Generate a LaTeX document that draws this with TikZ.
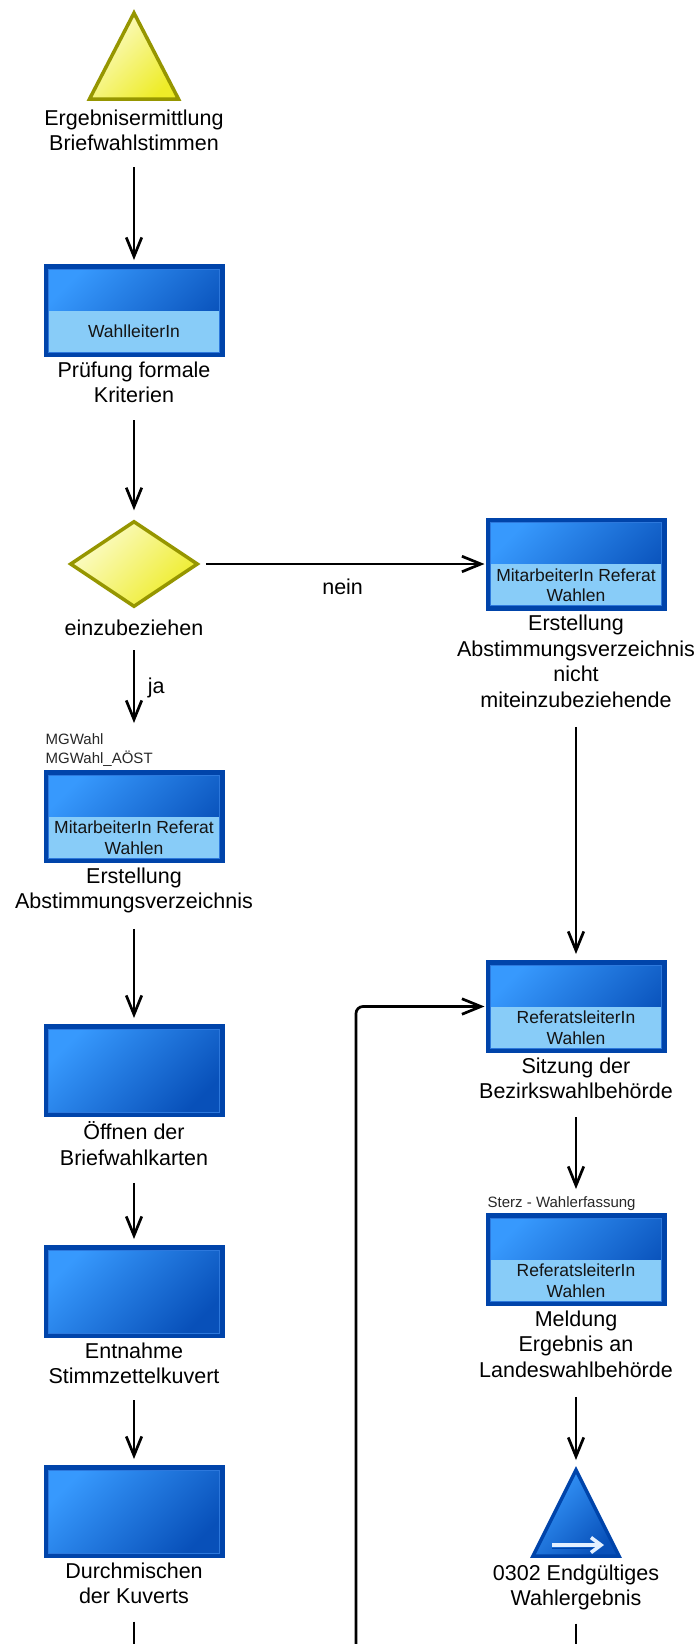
\documentclass[tikz,border=0pt]{standalone}
\usepackage{fontspec}
\setmainfont{Liberation Sans}
\usetikzlibrary{arrows.meta,shapes.geometric,calc}

\definecolor{boxedge}{RGB}{0,68,170}
\definecolor{boxinner}{RGB}{45,120,220}
\definecolor{boxlight}{RGB}{55,153,253}
\definecolor{boxdark}{RGB}{8,80,185}
\definecolor{bandfill}{RGB}{136,204,248}
\definecolor{evedge}{RGB}{150,150,0}
\definecolor{evlight}{RGB}{252,252,205}
\definecolor{evdark}{RGB}{238,236,40}
\definecolor{roletext}{RGB}{20,20,20}
\definecolor{tagtext}{RGB}{40,40,40}
\definecolor{iconwhite}{RGB}{228,240,255}

\newcommand\mainstrut{\rule[-5pt]{0pt}{25pt}}
\newcommand\tagstrut{\rule[-4pt]{0pt}{4pt}}

% role band, role text and inner rim of an activity box
\newcommand\actband[2]{%
  \fill[bandfill] ($(#1.center)+(-85.5,0)$) rectangle ($(#1.center)+(85.5,41.5)$);
  \node[role] (#1-role) at ($(#1.center)+(0,21)$) {#2};
}
\newcommand\actrim[1]{%
  \draw[boxinner, line width=1pt] ($(#1.center)+(-85.5,-41.5)$) rectangle ($(#1.center)+(85.5,41.5)$);
}

\tikzset{
  actbox/.style={rectangle, draw=boxedge, line width=4.5pt,
    minimum width=176.5pt, minimum height=88.5pt, inner sep=0pt,
    top color=boxlight, bottom color=boxdark, shading angle=45},
  evshape/.style={draw=evedge, line width=3.5pt, line join=miter,
    top color=evlight, bottom color=evdark, shading angle=45},
  endshape/.style={draw=boxedge, line width=3.5pt, line join=miter,
    top color=boxlight, bottom color=boxdark, shading angle=45},
  lbl/.style={align=center, inner sep=0pt, anchor=north,
    font=\fontsize{21.5}{25.5}\selectfont,
    execute at begin node=\mainstrut, execute at end node=\mainstrut},
  role/.style={align=center, inner sep=0pt, text=roletext,
    font=\fontsize{17.5}{20.5}\selectfont},
  tag/.style={align=left, inner sep=0pt, anchor=south west, text=tagtext,
    font=\fontsize{15}{19}\selectfont, execute at end node=\tagstrut},
  edgelbl/.style={inner sep=0pt, font=\fontsize{21.5}{25.5}\selectfont},
  flow/.style={line width=2.7pt, -{Straight Barb[length=19pt,width=15.5pt]}},
  plainflow/.style={line width=2.7pt},
}

\begin{document}
\begin{tikzpicture}[x=1pt, y=-1pt]
\fill[white] (0,0) rectangle (699,1644);
\useasboundingbox (0,0) rectangle (699,1644);

% ---- start event
\path[evshape] (134,13) -- (178.5,99) -- (89.5,99) -- cycle;
\coordinate (tEv) at (134,70);
\node[lbl] (tEv-lbl) at (134,109.5) {Ergebnisermittlung\\Briefwahlstimmen};

% ---- left column activities
\node[actbox] (A) at (134,310.5) {};
\actband{A}{WahlleiterIn}
\actrim{A}
\node[lbl] (A-lbl) at ($(A.south)+(0,4.5)$) {Prüfung formale\\Kriterien};

\node[diamond, evshape, minimum width=128pt, minimum height=86pt, inner sep=0pt] (D1) at (134,564) {};
\node[lbl] (D1-lbl) at (134,615.5) {einzubeziehen};

\node[actbox] (B) at (134,816.5) {};
\actband{B}{MitarbeiterIn Referat\\Wahlen}
\actrim{B}
\node[lbl] (B-lbl) at ($(B.south)+(0,4.5)$) {Erstellung\\Abstimmungsverzeichnis};
\node[tag] (B-tag) at ($(B.north west)+(2,-2.3)$) {MGWahl\\MGWahl\_AÖST};

\node[actbox] (C) at (134,1070.5) {};
\actrim{C}
\node[lbl] (C-lbl) at ($(C.south)+(0,4.5)$) {Öffnen der\\Briefwahlkarten};

\node[actbox] (D) at (134,1291.5) {};
\actrim{D}
\node[lbl] (D-lbl) at ($(D.south)+(0,4.5)$) {Entnahme\\Stimmzettelkuvert};

\node[actbox] (E) at (134,1511.5) {};
\actrim{E}
\node[lbl] (E-lbl) at ($(E.south)+(0,4.5)$) {Durchmischen\\der Kuverts};

% ---- right column activities
\node[actbox] (R1) at (576,564) {};
\actband{R1}{MitarbeiterIn Referat\\Wahlen}
\actrim{R1}
\node[lbl] (R1-lbl) at ($(R1.south)+(0,4.5)$) {Erstellung\\Abstimmungsverzeichnis\\nicht\\miteinzubeziehende};

\node[actbox] (R2) at (576,1006.5) {};
\actband{R2}{ReferatsleiterIn\\Wahlen}
\actrim{R2}
\node[lbl] (R2-lbl) at ($(R2.south)+(0,4.5)$) {Sitzung der\\Bezirkswahlbehörde};

\node[actbox] (R3) at (576,1259.5) {};
\actband{R3}{ReferatsleiterIn\\Wahlen}
\actrim{R3}
\node[lbl] (R3-lbl) at ($(R3.south)+(0,4.5)$) {Meldung\\Ergebnis an\\Landeswahlbehörde};
\node[tag] (R3-tag) at ($(R3.north west)+(2,-1)$) {Sterz - Wahlerfassung};

% ---- end event (process interface)
\path[endshape] (576,1470) -- (619,1556) -- (533,1556) -- cycle;
\coordinate (eEv) at (576,1466);
\draw[boxedge, line width=1.8pt] (552,1548.5) -- (596,1548.5);
\draw[iconwhite, line width=3.6pt, -{Straight Barb[length=10pt,width=15pt]}] (552,1545) -- (604,1545);
\node[lbl] (eEv-lbl) at (576,1564.5) {0302 Endgültiges\\Wahlergebnis};

% ---- free ends at the lower edge
\coordinate (bl) at (134,1648);
\coordinate (bm) at (356,1648);
\coordinate (br) at (576,1648);

% ---- connectors
\draw[flow, shorten <=11.5pt, shorten >=4pt] (tEv-lbl.south) -- (A.north);
\draw[flow, shorten <=12.5pt, shorten >=9pt] (A-lbl.south) -- (D1.north);
\draw[flow, shorten <=6pt, shorten >=1pt] (D1.east) -- (R1.west)
  node[edgelbl, midway, yshift=-23pt] (nein) {nein};
\draw[flow, shorten <=9.5pt, shorten >=47pt] (D1-lbl.south) -- (B.north)
  node[edgelbl, pos=0.367, anchor=west, xshift=12.5pt] (ja) {ja};
\draw[flow, shorten <=15pt, shorten >=6pt] (B-lbl.south) -- (C.north);
\draw[flow, shorten <=12.5pt, shorten >=6pt] (C-lbl.south) -- (D.north);
\draw[flow, shorten <=11.5pt, shorten >=6pt] (D-lbl.south) -- (E.north);
\draw[plainflow, shorten <=12.5pt] (E-lbl.south) -- (bl);
\draw[flow, shorten <=14.5pt, shorten >=6pt] (R1-lbl.south) -- (R2.north);
\draw[flow, shorten <=13.5pt, shorten >=24pt] (R2-lbl.south) -- (R3.north);
\draw[flow, shorten <=14.5pt, shorten >=6pt] (R3-lbl.south) -- (eEv);
\draw[plainflow, shorten <=12.5pt] (eEv-lbl.south) -- (br);
\draw[flow, rounded corners=7pt, shorten >=1pt] (bm) |- (R2.west);
\end{tikzpicture}
\end{document}
